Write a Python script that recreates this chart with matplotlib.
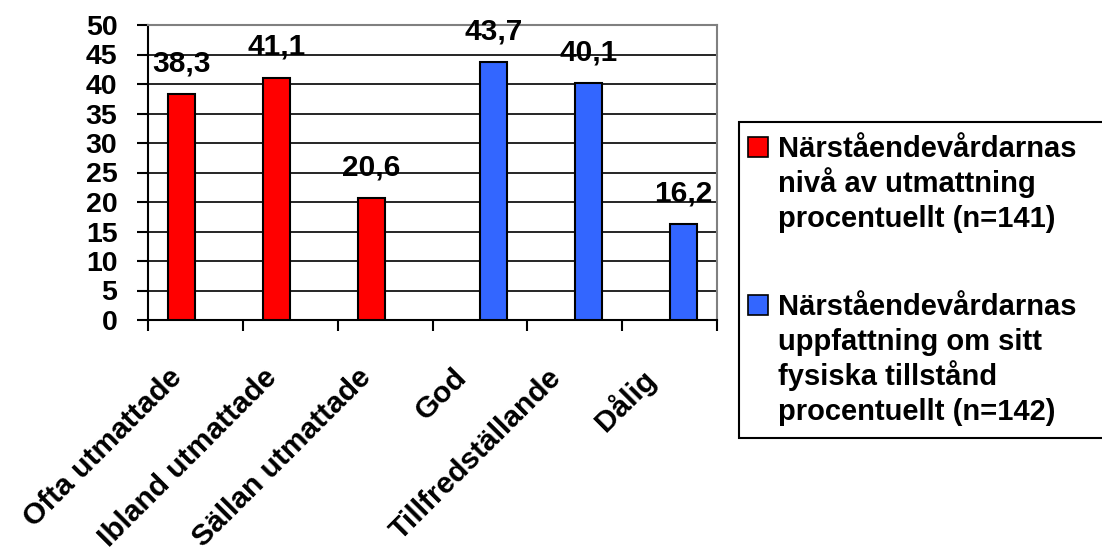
import matplotlib
matplotlib.use("Agg")
import matplotlib.pyplot as plt
import numpy as np
from matplotlib.patches import Rectangle
from matplotlib.transforms import ScaledTranslation

# categories on the x axis
categories = ["Ofta utmattade", "Ibland utmattade", "Sällan utmattade",
              "God", "Tillfredställande", "Dålig"]

# series 1: level of exhaustion (first three categories)
exhaustion_idx = [0, 1, 2]
exhaustion_pct = [38.3, 41.1, 20.6]

# series 2: perceived physical condition (last three categories)
condition_idx = [3, 4, 5]
condition_pct = [43.7, 40.1, 16.2]

legend_lines = [
    ["Närståendevårdarnas", "nivå av utmattning", "procentuellt (n=141)"],
    ["Närståendevårdarnas", "uppfattning om sitt", "fysiska tillstånd",
     "procentuellt (n=142)"],
]

y_ticks = list(range(0, 55, 5))

RED = "#FF0000"
BLUE = "#3366FF"
GREY = "#808080"
FONT = "Liberation Sans"

plt.rcParams["font.family"] = [FONT, "DejaVu Sans"]
plt.rcParams["font.weight"] = "bold"

W, H = 1102, 549
fig = plt.figure(figsize=(W / 100, H / 100), dpi=100)
ax = fig.add_axes([148 / W, 1 - 320 / H, (717 - 148) / W, (320 - 25) / H])

bar_w = 0.285
ax.bar(np.array(exhaustion_idx) - bar_w / 2, exhaustion_pct, width=bar_w,
       color=RED, edgecolor="black", linewidth=1.5, zorder=3)
ax.bar(np.array(condition_idx) + bar_w / 2, condition_pct, width=bar_w,
       color=BLUE, edgecolor="black", linewidth=1.5, zorder=3)

# value labels above the bars, Swedish decimal comma
for idx, vals, shift in [(exhaustion_idx, exhaustion_pct, -bar_w / 2),
                         (condition_idx, condition_pct, bar_w / 2)]:
    for i, v in zip(idx, vals):
        ax.annotate(f"{v:.1f}".replace(".", ","), xy=(i + shift, v),
                    xytext=(0, 16.5), textcoords="offset points",
                    ha="center", va="baseline", fontsize=21.5,
                    fontweight="bold", zorder=4)

ax.set_xlim(-0.5, len(categories) - 0.5)
ax.set_ylim(0, 50)

# y axis
ax.set_yticks(y_ticks)
ax.set_yticklabels([str(t) for t in y_ticks], fontsize=20.5, fontweight="bold")
ax.tick_params(axis="y", direction="out", length=8, width=1.5, pad=14)
ax.yaxis.grid(True, color="black", linewidth=1.2, zorder=1)
ax.set_axisbelow(True)

# x axis: ticks between categories, labels at the centres
ax.set_xticks(np.arange(len(categories) + 1) - 0.5, minor=True)
ax.set_xticks(np.arange(len(categories)))
ax.set_xticklabels(categories, fontsize=21.5, fontweight="bold",
                   rotation=45, ha="right", va="top")
ax.tick_params(axis="x", which="major", length=0, pad=31)
ax.tick_params(axis="x", which="minor", direction="out", length=8, width=1.5)
shift = ScaledTranslation(-8 / 100, 0, fig.dpi_scale_trans)
for lab in ax.get_xticklabels():
    lab.set_transform(lab.get_transform() + shift)

for side in ["left", "bottom"]:
    ax.spines[side].set_color("black")
    ax.spines[side].set_linewidth(1.5)
for side in ["top", "right"]:
    ax.spines[side].set_color(GREY)
    ax.spines[side].set_linewidth(1.5)

# legend box, drawn by hand so the swatch sits on the first text line
fig.patches.append(Rectangle((739 / W, 1 - 438 / H), (1110 - 739) / W,
                             (438 - 122) / H, transform=fig.transFigure,
                             facecolor="white", edgecolor="black",
                             linewidth=1.5, zorder=5))
line_step = 35
for lines, color, base in [(legend_lines[0], RED, 157),
                           (legend_lines[1], BLUE, 315)]:
    fig.patches.append(Rectangle((748 / W, 1 - base / H), 20 / W, 20 / H,
                                 transform=fig.transFigure, facecolor=color,
                                 edgecolor="black", linewidth=1.2, zorder=6))
    for k, line in enumerate(lines):
        fig.text(778 / W, 1 - (base + k * line_step) / H, line,
                 fontsize=21, fontweight="bold", ha="left",
                 va="baseline", zorder=7)

fig.savefig("out.png", dpi=100, facecolor="white")
